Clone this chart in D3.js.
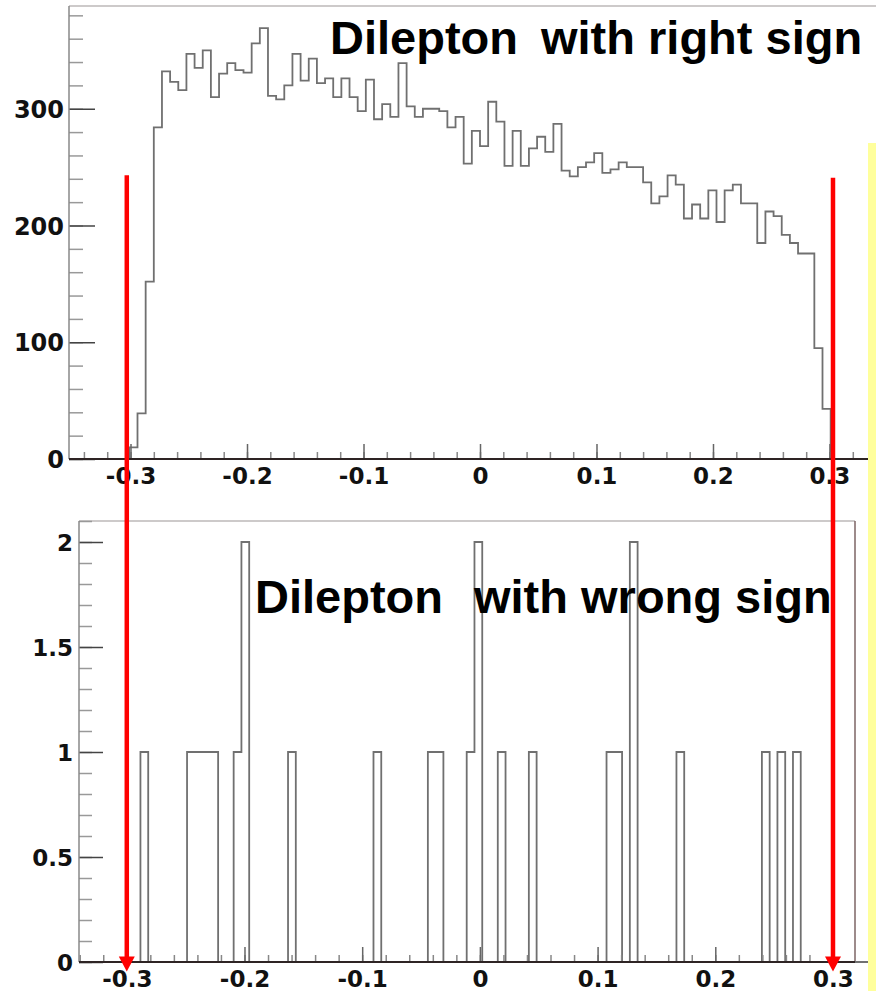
<!DOCTYPE html>
<html>
<head>
<meta charset="utf-8">
<script src="https://cdn.jsdelivr.net/npm/d3@7"></script>
<style>
body { margin: 0; background: #fff; }
svg { display: block; }
.tick text { font-family: "DejaVu Sans", sans-serif; font-weight: bold; fill: #111; }
.title { font-family: "Liberation Sans", Arial, sans-serif; font-weight: bold; font-size: 47px; fill: #000; }
</style>
</head>
<body>
<div id="chart"></div>
<script>
// right sign: 100 bins over [-0.35, 0.35]
let rightSignCounts = [
  0, 0, 0, 0, 0, 0, 0,
  10, 39, 152, 284, 332, 323, 316, 347, 335, 350,
  310, 330, 339, 333, 331, 356, 369, 311, 308, 320,
  347, 324, 343, 322, 326, 310, 326, 310, 298, 325,
  291, 304, 293, 339, 302, 293, 300, 300, 298, 284,
  293, 253, 281, 268, 306, 289, 251, 281, 251, 266,
  276, 263, 287, 247, 242, 250, 254, 262, 245, 248,
  254, 250, 250, 237, 219, 225, 243, 235, 206, 218,
  206, 230, 203, 230, 235, 219, 219, 185, 212, 208,
  192, 185, 176, 176, 95, 43,
  0, 0, 0, 0, 0, 0, 0
];
let rightRange = [-0.35, 0.35];

// wrong sign: 100 bins
let wrongSignCounts = [
  0, 0, 0, 0, 0, 0, 1, 0, 0, 0,
  0, 0, 1, 1, 1, 1, 0, 0, 1, 2,
  0, 0, 0, 0, 0, 1, 0, 0, 0, 0,
  0, 0, 0, 0, 0, 0, 1, 0, 0, 0,
  0, 0, 0, 1, 1, 0, 0, 0, 1, 2,
  0, 0, 1, 0, 0, 0, 1, 0, 0, 0,
  0, 0, 0, 0, 0, 0, 1, 1, 0, 2,
  0, 0, 0, 0, 0, 1, 0, 0, 0, 0,
  0, 0, 0, 0, 0, 0, 1, 0, 1, 0,
  1, 0, 0, 0, 0, 0, 0, 0, 0, 0
];
let wrongRange = [-0.328, 0.332];

let xTickValues = [-0.3, -0.2, -0.1, 0, 0.1, 0.2, 0.3];
let xTickLabels = ["-0.3", "-0.2", "-0.1", "0", "0.1", "0.2", "0.3"];
let yTopTicks = [0, 100, 200, 300];
let yTopLabels = ["0", "100", "200", "300"];
let yBotTicks = [0, 0.5, 1, 1.5, 2];
let yBotLabels = ["0", "0.5", "1", "1.5", "2"];

let titles = ["Dilepton", "with right sign", "Dilepton", "with wrong sign"];

// cut markers
let cutValues = [-0.3, 0.3];
let cutTopValues = [243, 241];

let width = 876;
let height = 991;

let svg = d3.select("#chart").append("svg")
  .attr("width", width)
  .attr("height", height);

let xTop = d3.scaleLinear().domain([-0.3528, 0.354]).range([69, 892.4]);
let yTop = d3.scaleLinear().domain([0, 388]).range([459, 6]);
let xBot = d3.scaleLinear().domain([-0.3406, 0.3187]).range([79, 855]);
let yBot = d3.scaleLinear().domain([0, 2.1]).range([962, 521]);

function minorTicks(lo, hi, step) {
  let out = [];
  let n = Math.round((hi - lo) / step);
  for (let i = 0; i <= n; i++) out.push(+(lo + i * step).toFixed(4));
  return out;
}

function stepPoints(counts, range) {
  let w = (range[1] - range[0]) / counts.length;
  let pts = [[range[0], 0]];
  counts.forEach((c, i) => {
    pts.push([range[0] + i * w, c], [range[0] + (i + 1) * w, c]);
  });
  pts.push([range[1], 0]);
  return pts;
}

function drawPanel(x, y, counts, range, opts) {
  let g = svg.append("g");
  let x0 = x.range()[0], x1 = x.range()[1];
  let y0 = y.range()[0], y1 = y.range()[1];

  // frame
  g.append("line")
    .attr("x1", x0).attr("x2", x1).attr("y1", y1).attr("y2", y1)
    .attr("stroke", "#bdb8b8").attr("stroke-width", 1.5);
  if (opts.rightFrame) {
    g.append("line")
      .attr("x1", x1).attr("x2", x1).attr("y1", y1).attr("y2", y0)
      .attr("stroke", "#7d6464").attr("stroke-width", 1.5);
  }

  // histogram
  let line = d3.line().x(d => x(d[0])).y(d => y(d[1]));
  g.append("path")
    .datum(stepPoints(counts, range))
    .attr("d", line)
    .attr("fill", "none")
    .attr("stroke", "#707070")
    .attr("stroke-width", 1.8);

  // y axis ticks (inward)
  g.append("g").attr("transform", `translate(${x0},0)`)
    .call(d3.axisRight(y).tickValues(opts.yMinor).tickSize(opts.yMinorLen).tickFormat("").tickSizeOuter(0))
    .call(a => a.select(".domain").remove())
    .selectAll("line").attr("stroke", "#999").attr("stroke-width", 1.5);
  g.append("g").attr("transform", `translate(${x0},0)`)
    .call(d3.axisRight(y).tickValues(opts.yTicks).tickSize(opts.yMajorLen).tickFormat("").tickSizeOuter(0))
    .call(a => a.select(".domain").remove())
    .selectAll("line").attr("stroke", "#444").attr("stroke-width", 1.5);
  g.append("g").attr("transform", `translate(${x0},0)`)
    .call(d3.axisLeft(y).tickValues(opts.yTicks).tickSize(0).tickPadding(opts.yPad)
      .tickFormat((d, i) => opts.yLabels[i]))
    .call(a => a.select(".domain").remove())
    .selectAll("text").attr("font-size", opts.yFont).attr("dy", "0.36em");

  g.append("line")
    .attr("x1", x0).attr("x2", x0).attr("y1", y1).attr("y2", y0)
    .attr("stroke", "#888").attr("stroke-width", 1.5);

  // x axis ticks (pointing up)
  g.append("g").attr("transform", `translate(0,${y0})`)
    .call(d3.axisTop(x).tickValues(minorTicks(-0.34, 0.34, 0.02).filter(v => v >= x.domain()[0] && v <= x.domain()[1]))
      .tickSize(7).tickFormat("").tickSizeOuter(0))
    .call(a => a.select(".domain").remove())
    .selectAll("line").attr("stroke", "#888").attr("stroke-width", 1.5);
  g.append("g").attr("transform", `translate(0,${y0})`)
    .call(d3.axisTop(x).tickValues(xTickValues).tickSize(15).tickFormat("").tickSizeOuter(0))
    .call(a => a.select(".domain").remove())
    .selectAll("line").attr("stroke", "#666").attr("stroke-width", 1.5);
  g.append("g").attr("transform", `translate(0,${y0})`)
    .call(d3.axisBottom(x).tickValues(xTickValues).tickSize(0)
      .tickFormat((d, i) => xTickLabels[i]))
    .call(a => a.select(".domain").remove())
    .selectAll("text").attr("font-size", 23).attr("y", 9).attr("dy", "0.71em");

  g.append("line")
    .attr("x1", x0).attr("x2", x1).attr("y1", y0).attr("y2", y0)
    .attr("stroke", "#2e2424").attr("stroke-width", 2);

  // title
  let t = g.append("text").attr("class", "title").attr("y", opts.titleY);
  t.append("tspan").attr("x", opts.titleX[0]).text(opts.title[0]);
  t.append("tspan").attr("x", opts.titleX[1]).text(opts.title[1]);
}

drawPanel(xTop, yTop, rightSignCounts, rightRange, {
  yTicks: yTopTicks, yLabels: yTopLabels,
  yMinor: minorTicks(0, 380, 20),
  yMajorLen: 26, yMinorLen: 14, yPad: 5, yFont: 24,
  rightFrame: false,
  title: titles.slice(0, 2), titleX: [330, 541], titleY: 54
});

drawPanel(xBot, yBot, wrongSignCounts, wrongRange, {
  yTicks: yBotTicks, yLabels: yBotLabels,
  yMinor: minorTicks(0, 2.1, 0.1),
  yMajorLen: 24, yMinorLen: 13, yPad: 6, yFont: 23,
  rightFrame: true,
  title: titles.slice(2, 4), titleX: [255, 474], titleY: 613
});

// red cut arrows
let arrows = svg.append("g");
cutValues.forEach((v, i) => {
  let ax = xBot(v);
  let tipY = yBot(-0.045);
  arrows.append("line")
    .attr("x1", ax).attr("x2", ax)
    .attr("y1", yTop(cutTopValues[i])).attr("y2", tipY - 12)
    .attr("stroke", "#ff0000").attr("stroke-width", 4.5);
  arrows.append("path")
    .attr("d", `M${ax - 8},${tipY - 15}L${ax + 8},${tipY - 15}L${ax},${tipY}Z`)
    .attr("fill", "#ff0000");
});

// yellow strip on the right
svg.append("rect")
  .attr("x", 868).attr("y", 143)
  .attr("width", 8).attr("height", height - 143)
  .attr("fill", "#ffff9c");
</script>
</body>
</html>
